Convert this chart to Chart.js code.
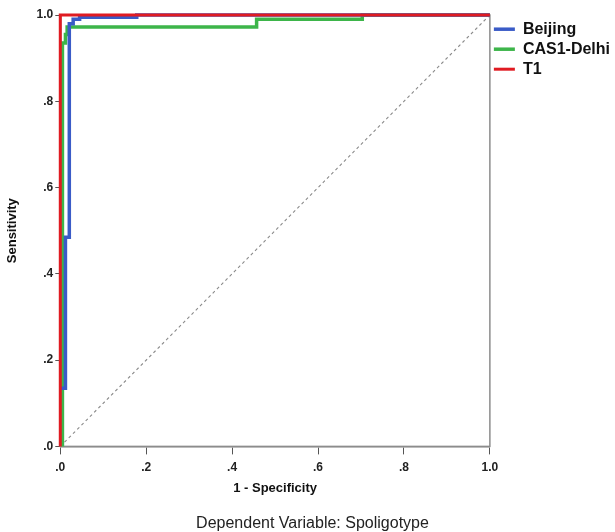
<!DOCTYPE html>
<html>
<head>
<meta charset="utf-8">
<script src="https://cdn.jsdelivr.net/npm/chart.js@4"></script>
<style>
  body { margin: 0; background: #fff; }
  #wrap { width: 615px; height: 532px; }
</style>
</head>
<body>
<div id="wrap"><canvas id="roc" width="615" height="532"></canvas></div>
<script>
// ROC curves
const seriesNames = ["Beijing", "CAS1-Delhi", "T1"];
const beijingX = [0, 0.012, 0.012, 0.021, 0.021, 0.03, 0.03, 0.045, 0.045, 0.178, 0.178, 1];
const beijingY = [0.135, 0.135, 0.485, 0.485, 0.98, 0.98, 0.99, 0.99, 0.995, 0.995, 1, 1];
const delhiX = [0.005, 0.005, 0.012, 0.012, 0.016, 0.016, 0.457, 0.457, 0.703, 0.703, 1];
const delhiY = [0, 0.935, 0.935, 0.955, 0.955, 0.972, 0.972, 0.99, 0.99, 1, 1];
const t1X = [0, 0, 1];
const t1Y = [0, 1, 1];
const refX = [0, 1];
const refY = [0, 1];
const tickValues = [0, 0.2, 0.4, 0.6, 0.8, 1.0];

const pts = (xs, ys) => xs.map((x, i) => ({ x: x, y: ys[i] }));
const tickLabel = v => (Math.abs(v - 1) < 1e-9 ? "1.0" : "." + Math.round(v * 10));
const FONT = "'Liberation Sans', Arial, sans-serif";

const frame = {
  id: "frame",
  beforeDatasetsDraw(chart) {
    const a = chart.chartArea, c = chart.ctx;
    c.save();
    c.strokeStyle = "#8c8c8c";
    c.lineWidth = 1.5;
    c.strokeRect(a.left, a.top, a.right - a.left, a.bottom - a.top);
    c.restore();
  }
};

new Chart(document.getElementById("roc").getContext("2d"), {
  type: "scatter",
  data: {
    datasets: [
      { label: seriesNames[0], data: pts(beijingX, beijingY), borderColor: "#3a5bc7", backgroundColor: "#3a5bc7", borderWidth: 3.5, order: 1 },
      { label: seriesNames[1], data: pts(delhiX, delhiY), borderColor: "#3db54a", backgroundColor: "#3db54a", borderWidth: 3.5, order: 2 },
      { label: seriesNames[2], data: pts(t1X, t1Y), borderColor: "#e01b22", backgroundColor: "#e01b22", borderWidth: 3, order: 0 },
      { label: "ref", data: pts(refX, refY), borderColor: "#8a8a8a", borderWidth: 1.1, borderDash: [3, 3], order: 3 }
    ].map(d => Object.assign({ showLine: true, pointRadius: 0, tension: 0, clip: false }, d))
  },
  options: {
    responsive: false,
    animation: false,
    layout: { padding: { left: 5, top: 15, right: -5, bottom: 0 } },
    plugins: {
      tooltip: { enabled: false },
      legend: {
        position: "right",
        align: "start",
        title: { display: true, text: " ", padding: 0.5, font: { size: 1 } },
        labels: {
          filter: item => item.text !== "ref",
          sort: (a, b) => a.datasetIndex - b.datasetIndex,
          usePointStyle: true,
          pointStyle: "line",
          pointStyleWidth: 21,
          padding: 4,
          color: "#111",
          font: { family: FONT, size: 16, weight: "bold", lineHeight: 1 }
        }
      },
      title: {
        display: true,
        position: "bottom",
        text: "Dependent Variable: Spoligotype",
        color: "#222",
        font: { family: FONT, size: 16, weight: "normal", lineHeight: 1 },
        padding: { top: 20, bottom: 0 }
      }
    },
    scales: {
      x: {
        type: "linear",
        min: 0, max: 1,
        afterBuildTicks: s => { s.ticks = tickValues.map(v => ({ value: v })); },
        ticks: { callback: tickLabel, color: "#222", font: { family: FONT, size: 12, weight: "bold", lineHeight: 1 }, padding: 7, maxRotation: 0 },
        grid: { drawOnChartArea: false, color: "#555", tickLength: 8 },
        border: { color: "#8c8c8c", width: 1.5 },
        title: { display: true, text: "1 - Specificity", color: "#111", font: { family: FONT, size: 13, weight: "bold" }, padding: { top: 0, bottom: 0 } }
      },
      y: {
        type: "linear",
        min: 0, max: 1,
        afterBuildTicks: s => { s.ticks = tickValues.map(v => ({ value: v })); },
        ticks: { callback: tickLabel, color: "#222", font: { family: FONT, size: 12, weight: "bold" }, padding: 2 },
        grid: { drawOnChartArea: false, color: "#555", tickLength: 5 },
        border: { color: "#8c8c8c", width: 1.5 },
        title: { display: true, text: "Sensitivity", color: "#111", font: { family: FONT, size: 13, weight: "bold" }, padding: { top: 0, bottom: 14 } }
      }
    }
  },
  plugins: [frame]
});
</script>
</body>
</html>
